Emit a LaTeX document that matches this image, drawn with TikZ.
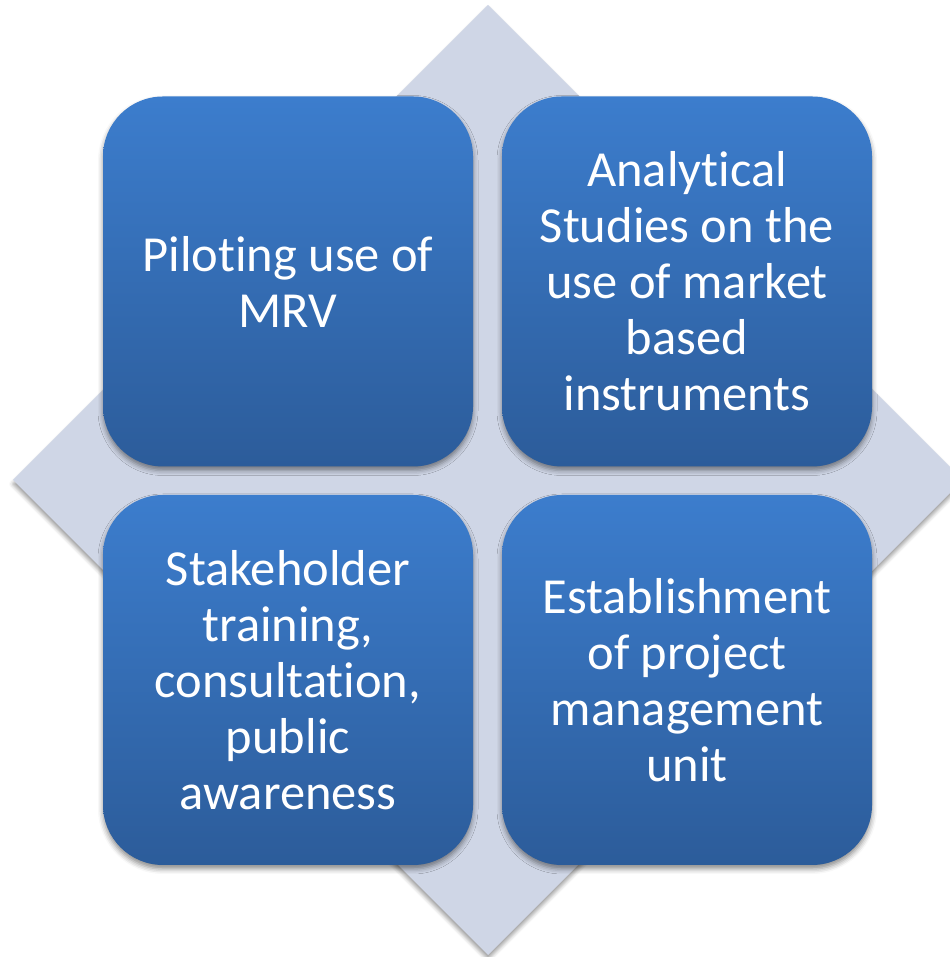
\documentclass[tikz,border=0pt]{standalone}
\usepackage{fontspec}
\setmainfont{Carlito}[RawFeature=-liga]
\usetikzlibrary{shadows,shadows.blur}
\definecolor{diafill}{HTML}{CFD6E6}
\definecolor{boxtop}{HTML}{3C7DCD}
\definecolor{boxbot}{HTML}{2C5C9A}
\tikzset{
  quad/.style={rounded corners=60pt, minimum width=370pt, minimum height=370pt,
    top color=boxtop, bottom color=boxbot, text=white, align=center,
    font=\fontsize{50.5}{56}\selectfont,
    blur shadow={shadow xshift=0pt, shadow yshift=-4pt, shadow blur radius=5pt, shadow opacity=45}},
  backdia/.style={fill=diafill,
    blur shadow={shadow xshift=0pt, shadow yshift=-4pt, shadow blur radius=4pt, shadow opacity=40}}
}
\begin{document}
\begin{tikzpicture}[x=1pt,y=1pt]
\useasboundingbox (0,0) rectangle (949,957);
\path[backdia] (488,952) -- (963,477) -- (488,2) -- (13,477) -- cycle;
\node[quad] (tl) at (288,675.5) {Piloting use of\\MRV};
\node[quad] (tr) at (687,675.5) {Analytical\\Studies on the\\use of market\\based\\instruments};
\node[quad] (bl) at (288,277) {Stakeholder\\training,\\consultation,\\public\\awareness};
\node[quad] (br) at (687,277) {Establishment\\of project\\management\\unit};
\end{tikzpicture}
\end{document}
